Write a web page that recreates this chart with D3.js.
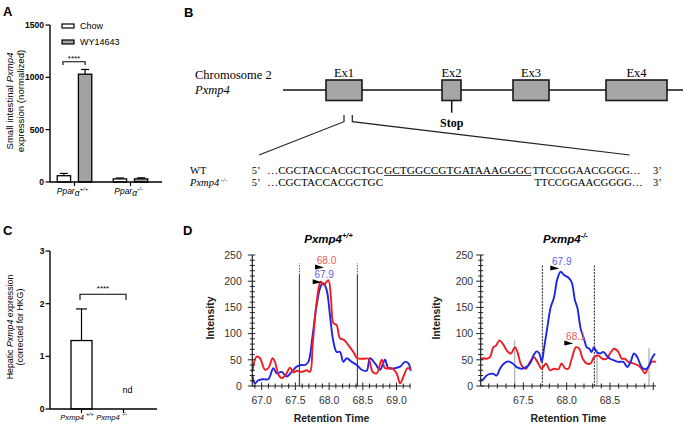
<!DOCTYPE html>
<html><head><meta charset="utf-8">
<script src="https://cdn.jsdelivr.net/npm/d3@7"></script>
<style>body{margin:0;background:#fff}svg{display:block}</style>
</head><body><svg id="c" width="685" height="428"></svg>
<script>
// ---------------- DATA ----------------
// Panel A
const groupsA = ["wt", "ko"];
const groupSupA = ["+/+", "-/-"];
const seriesA = ["Chow", "WY14643"];
const chowA = [60, 30];
const chowErrA = [22, 8];
const wyA = [1030, 30];
const wyErrA = [45, 10];
const ticksA = [0, 500, 1000, 1500];
// Panel C
const groupsC = ["wt", "ko"];
const groupSupC = ["+/+", "-/-"];
const valuesC = [1.3, null];
const errC = [0.6, null];
const ticksC = [0, 1, 2, 3];
// Panel B
const exonNames = ["Ex1", "Ex2", "Ex3", "Ex4"];
const exonStart = [43, 159, 230, 323];
const exonEnd = [79, 178, 266, 384];
const geneExtent = [0, 400];
const stopPos = 168.7;
const deletionSite = [61, 69.3];
const seqWT = ["…CGCTACCACGCTGC", "GCTGGCCGTGATAAAGGGC", "TTCCGGAACGGGG…"];
const seqKO = ["…CGCTACCACGCTGC", "", "TTCCGGAACGGGG…"];
// Panel D
const yTicksD = [0, 50, 100, 150, 200, 250];
const xTicksD1 = [67.0, 67.5, 68.0, 68.5, 69.0];
const xTicksD2 = [67.5, 68.0, 68.5];
const d1Red = [[66.861,27],[66.925,56],[66.975,53],[67.049,31],[67.098,34],[67.163,53],[67.197,46],[67.247,22],[67.296,15],[67.361,22],[67.420,35],[67.469,26],[67.519,29],[67.593,27],[67.667,30],[67.717,27],[67.756,78],[67.816,161],[67.875,199],[67.924,193],[67.988,202],[68.028,167],[68.063,120],[68.112,116],[68.162,91],[68.221,88],[68.285,78],[68.359,65],[68.419,53],[68.508,52],[68.582,52],[68.646,27],[68.706,24],[68.780,50],[68.829,34],[68.928,34],[69.003,24],[69.052,5],[69.112,21],[69.161,34],[69.210,32]];
const d1Blue = [[66.861,21],[66.901,5],[66.950,11],[67.024,13],[67.098,13],[67.173,34],[67.222,24],[67.296,27],[67.370,18],[67.445,27],[67.519,37],[67.593,40],[67.642,40],[67.692,46],[67.756,97],[67.816,155],[67.875,190],[67.914,196],[67.964,183],[68.013,135],[68.063,85],[68.112,65],[68.162,65],[68.211,46],[68.260,53],[68.335,46],[68.409,40],[68.483,31],[68.557,29],[68.607,53],[68.681,43],[68.755,31],[68.829,50],[68.879,34],[68.978,34],[69.052,37],[69.126,46],[69.176,43],[69.210,29]];
const d2Red = [[67.008,51],[67.038,53],[67.077,52],[67.115,55],[67.154,74],[67.185,77],[67.223,87],[67.262,81],[67.308,68],[67.354,62],[67.404,74],[67.431,65],[67.481,39],[67.531,33],[67.577,46],[67.623,55],[67.662,46],[67.712,33],[67.762,43],[67.808,30],[67.854,33],[67.904,32],[67.942,43],[67.981,34],[68.019,33],[68.058,52],[68.108,74],[68.146,71],[68.185,52],[68.231,43],[68.277,43],[68.315,55],[68.365,58],[68.412,52],[68.462,52],[68.500,62],[68.546,71],[68.596,65],[68.635,52],[68.673,52],[68.712,46],[68.769,43],[68.827,39],[68.865,33],[68.904,24],[68.942,36],[68.981,46],[69.031,46]];
const d2Blue = [[67.008,11],[67.038,13],[67.077,20],[67.115,23],[67.154,23],[67.192,20],[67.231,33],[67.277,43],[67.327,47],[67.377,43],[67.423,36],[67.481,33],[67.531,36],[67.577,43],[67.623,60],[67.654,66],[67.685,62],[67.712,46],[67.738,71],[67.777,112],[67.815,150],[67.854,169],[67.892,204],[67.931,218],[67.969,212],[68.019,207],[68.058,198],[68.096,163],[68.123,150],[68.162,109],[68.200,90],[68.231,74],[68.262,71],[68.288,65],[68.315,74],[68.346,65],[68.385,62],[68.423,65],[68.462,58],[68.500,52],[68.546,49],[68.596,46],[68.654,46],[68.700,36],[68.738,46],[68.777,62],[68.815,55],[68.865,36],[68.904,32],[68.942,36],[68.981,52],[69.019,62]];
const d1Markers = [67.56, 68.42];
const d2Markers = [67.72, 68.32];
const d2GrayMarkers = [67.40, 68.35, 68.95];
const d2GrayHeights = [87, 70, 72];
const d1Peaks = [{t: 67.924, v: 226, text: "68.0", c: "red"}, {t: 67.89, v: 198, text: "67.9", c: "blue"}];
const d2Peaks = [{t: 67.915, v: 224, text: "67.9", c: "blue"}, {t: 68.077, v: 81, text: "68.1", c: "red"}];

// ---------------- DRAW ----------------
const SANS = "'Liberation Sans', Arial, sans-serif";
const SERIF = "'Liberation Serif', 'Times New Roman', serif";
const svg = d3.select("#c");
svg.append("rect").attr("width", 685).attr("height", 428).attr("fill", "#fff");

function panelLetter(t, x, y) {
  svg.append("text").attr("x", x).attr("y", y).text(t)
    .attr("font-family", SANS).attr("font-weight", "bold").attr("font-size", 13);
}
panelLetter("A", 3, 16); panelLetter("B", 184, 17); panelLetter("C", 3, 235); panelLetter("D", 183, 235);

// ----- Panel A -----
(function () {
  const g = svg.append("g");
  const y = d3.scaleLinear().domain([0, 1500]).range([182, 25]);
  const x = d3.scalePoint().domain(groupsA).range([50, 155]).padding(0.4375);
  const xs = d3.scaleBand().domain(seriesA).range([-21.5, 21.5]).paddingInner(0.37).paddingOuter(0.2);
  const bw = xs.bandwidth();
  const vals = [chowA, wyA], errs = [chowErrA, wyErrA], fills = ["#ffffff", "#a3a3a3"];
  seriesA.forEach((s, si) => {
    groupsA.forEach((gname, gi) => {
      const cx = x(gname) + xs(s) + bw / 2;
      const top = y(vals[si][gi]), et = y(vals[si][gi] + errs[si][gi]);
      g.append("line").attr("x1", cx).attr("x2", cx).attr("y1", top).attr("y2", et).attr("stroke", "#000").attr("stroke-width", 1.2);
      g.append("line").attr("x1", cx - 4).attr("x2", cx + 4).attr("y1", et).attr("y2", et).attr("stroke", "#000").attr("stroke-width", 1.2);
      g.append("rect").attr("x", x(gname) + xs(s)).attr("y", top).attr("width", bw).attr("height", y(0) - top)
        .attr("fill", fills[si]).attr("stroke", "#000").attr("stroke-width", 1.3);
    });
  });
  // axes
  g.append("line").attr("x1", 50).attr("x2", 50).attr("y1", y(0)).attr("y2", y(1500)).attr("stroke", "#000").attr("stroke-width", 1.4);
  g.append("line").attr("x1", 50).attr("x2", 162).attr("y1", y(0)).attr("y2", y(0)).attr("stroke", "#000").attr("stroke-width", 1.4);
  ticksA.forEach(t => {
    g.append("line").attr("x1", 45.5).attr("x2", 50).attr("y1", y(t)).attr("y2", y(t)).attr("stroke", "#000").attr("stroke-width", 1.2);
    g.append("text").attr("x", 44).attr("y", y(t) + 3).attr("text-anchor", "end").text(t)
      .attr("font-family", SANS).attr("font-weight", "bold").attr("font-size", 8.5);
  });
  groupsA.forEach((gname, gi) => {
    g.append("line").attr("x1", x(gname)).attr("x2", x(gname)).attr("y1", y(0)).attr("y2", y(0) + 4).attr("stroke", "#000").attr("stroke-width", 1.2);
    const tx = g.append("text").attr("x", x(gname) - 2).attr("y", 194).attr("text-anchor", "middle")
      .attr("font-family", SANS).attr("font-size", 8.5).attr("font-style", "italic");
    tx.append("tspan").text("Ppar");
    tx.append("tspan").text("α").attr("dy", 1.5);
    tx.append("tspan").text(groupSupA[gi]).attr("font-size", 6).attr("dy", -5);
  });
  // legend
  seriesA.forEach((s, si) => {
    const ly = 26 + si * 16;
    g.append("rect").attr("x", 62).attr("y", ly - 2).attr("width", 12).attr("height", 4).attr("fill", fills[si]).attr("stroke", "#000").attr("stroke-width", 1.2);
    g.append("text").attr("x", 80).attr("y", ly + 3.3).text(s).attr("font-family", SANS).attr("font-size", 9);
  });
  // significance
  const x1 = x("wt") + xs("Chow") + bw / 2 - 1, x2 = x("wt") + xs("WY14643") + bw / 2;
  g.append("path").attr("d", `M${x1},65 V61.7 H${x2} V65`).attr("fill", "none").attr("stroke", "#000").attr("stroke-width", 1.1);
  g.append("text").attr("x", (x1 + x2) / 2).attr("y", 61).attr("text-anchor", "middle").text("****").attr("font-family", SANS).attr("font-size", 8);
  // y label
  const yl = g.append("text").attr("transform", "translate(10,101) rotate(-90)").attr("text-anchor", "middle").attr("dy", "0.35em")
    .attr("font-family", SANS).attr("font-size", 9.6);
  yl.append("tspan").text("Small intestinal ");
  yl.append("tspan").text("Pxmp4").attr("font-style", "italic");
  g.append("text").attr("transform", "translate(20.5,101) rotate(-90)").attr("text-anchor", "middle").attr("dy", "0.35em")
    .attr("font-family", SANS).attr("font-size", 9.6).text("expression (normalized)");
})();

// ----- Panel C -----
(function () {
  const g = svg.append("g");
  const y = d3.scaleLinear().domain([0, 3]).range([409, 251]);
  const x = d3.scalePoint().domain(groupsC).range([50, 155]).padding(0.75);
  const bw = 21;
  groupsC.forEach((gname, gi) => {
    if (valuesC[gi] == null) return;
    const cx = x(gname), top = y(valuesC[gi]), et = y(valuesC[gi] + errC[gi]);
    g.append("line").attr("x1", cx).attr("x2", cx).attr("y1", top).attr("y2", et).attr("stroke", "#000").attr("stroke-width", 1.2);
    g.append("line").attr("x1", cx - 5.5).attr("x2", cx + 5.5).attr("y1", et).attr("y2", et).attr("stroke", "#000").attr("stroke-width", 1.2);
    g.append("rect").attr("x", cx - bw / 2).attr("y", top).attr("width", bw).attr("height", y(0) - top)
      .attr("fill", "#fff").attr("stroke", "#000").attr("stroke-width", 1.3);
  });
  g.append("text").attr("x", x("ko") + 4).attr("y", 393).attr("text-anchor", "middle").text("nd").attr("font-family", SANS).attr("font-size", 9);
  g.append("line").attr("x1", 50).attr("x2", 50).attr("y1", y(0)).attr("y2", y(3)).attr("stroke", "#000").attr("stroke-width", 1.4);
  g.append("line").attr("x1", 50).attr("x2", 157).attr("y1", y(0)).attr("y2", y(0)).attr("stroke", "#000").attr("stroke-width", 1.4);
  ticksC.forEach(t => {
    g.append("line").attr("x1", 45.5).attr("x2", 50).attr("y1", y(t)).attr("y2", y(t)).attr("stroke", "#000").attr("stroke-width", 1.2);
    g.append("text").attr("x", 44.5).attr("y", y(t) + 3).attr("text-anchor", "end").text(t)
      .attr("font-family", SANS).attr("font-weight", "bold").attr("font-size", 8.5);
  });
  const lblDx = [-4.5, -12];
  groupsC.forEach((gname, gi) => {
    g.append("line").attr("x1", x(gname)).attr("x2", x(gname)).attr("y1", y(0)).attr("y2", y(0) + 4).attr("stroke", "#000").attr("stroke-width", 1.2);
    const tx = g.append("text").attr("x", x(gname) + lblDx[gi]).attr("y", 420).attr("text-anchor", "middle")
      .attr("font-family", SANS).attr("font-size", 7.6).attr("font-style", "italic");
    tx.append("tspan").text("Pxmp4 ");
    tx.append("tspan").text(groupSupC[gi]).attr("font-size", 5.3).attr("dy", -4);
  });
  const bx1 = x("wt") - 1.5, bx2 = x("ko") + 2.5;
  g.append("path").attr("d", `M${bx1},300 V294.3 H${bx2} V300`).attr("fill", "none").attr("stroke", "#000").attr("stroke-width", 1.1);
  g.append("text").attr("x", (bx1 + bx2) / 2).attr("y", 290.5).attr("text-anchor", "middle").text("****").attr("font-family", SANS).attr("font-size", 8);
  const yl = g.append("text").attr("transform", "translate(10,327) rotate(-90)").attr("text-anchor", "middle").attr("dy", "0.35em")
    .attr("font-family", SANS).attr("font-size", 8.8);
  yl.append("tspan").text("Hepatic ");
  yl.append("tspan").text("Pxmp4").attr("font-style", "italic");
  yl.append("tspan").text(" expression");
  g.append("text").attr("transform", "translate(19.5,327) rotate(-90)").attr("text-anchor", "middle").attr("dy", "0.35em")
    .attr("font-family", SANS).attr("font-size", 8.8).text("(corrected for HKG)");
})();

// ----- Panel B -----
(function () {
  const g = svg.append("g");
  const x = d3.scaleLinear().domain(geneExtent).range([283, 683]);
  g.append("line").attr("x1", x(geneExtent[0])).attr("x2", x(geneExtent[1])).attr("y1", 90).attr("y2", 90).attr("stroke", "#111").attr("stroke-width", 1.5);
  exonNames.forEach((n, i) => {
    g.append("rect").attr("x", x(exonStart[i])).attr("y", 80).attr("width", x(exonEnd[i]) - x(exonStart[i])).attr("height", 20.5)
      .attr("fill", "#a6a6a6").attr("stroke", "#1a1a1a").attr("stroke-width", 1.6);
    g.append("text").attr("x", (x(exonStart[i]) + x(exonEnd[i])) / 2).attr("y", 76.5).attr("text-anchor", "middle")
      .text(n).attr("font-family", SERIF).attr("font-size", 12.5);
  });
  g.append("text").attr("x", 195).attr("y", 78.5).text("Chromosome 2").attr("font-family", SERIF).attr("font-size", 12.5);
  g.append("text").attr("x", 195).attr("y", 94).text("Pxmp4").attr("font-family", SERIF).attr("font-size", 12.5).attr("font-style", "italic");
  g.append("line").attr("x1", x(stopPos)).attr("x2", x(stopPos)).attr("y1", 100.5).attr("y2", 112.7).attr("stroke", "#111").attr("stroke-width", 1.5);
  g.append("text").attr("x", x(stopPos)).attr("y", 127).attr("text-anchor", "middle").text("Stop")
    .attr("font-family", SERIF).attr("font-size", 12).attr("font-weight", "bold");
  // sequences
  const total = seqWT.join("").length;
  const cx = d3.scaleLinear().domain([0, total]).range([267, 641.7]);
  const rows = [{lab: "WT", seq: seqWT, y: 174}, {lab: "Pxmp4", seq: seqKO, y: 185.5}];
  const ds = deletionSite.map(x);
  g.append("path").attr("d", `M${ds[0]},115 V121.7 L${cx(0) - 8},155`).attr("fill", "none").attr("stroke", "#222").attr("stroke-width", 1.2);
  g.append("path").attr("d", `M${ds[1]},115 V121.7 L${cx(total) - 12},155`).attr("fill", "none").attr("stroke", "#222").attr("stroke-width", 1.2);
  rows.forEach((r, ri) => {
    const lt = g.append("text").attr("x", 190).attr("y", r.y).attr("font-family", SERIF).attr("font-size", 10.5);
    if (ri === 0) lt.text("WT");
    else {
      lt.attr("font-style", "italic").text("Pxmp4");
      lt.append("tspan").text(" -/-").attr("font-size", 6.5).attr("dy", -4).attr("font-style", "normal");
    }
    g.append("text").attr("x", 251.7).attr("y", r.y).text("5’").attr("font-family", SERIF).attr("font-size", 10.5);
    g.append("text").attr("x", 653).attr("y", r.y).text("3’").attr("font-family", SERIF).attr("font-size", 10.5);
    let pos = 0;
    seqWT.forEach((seg, si) => {
      const s = r.seq[si];
      const x0 = cx(pos), x1 = cx(pos + seg.length);
      if (s) {
        const off = (ri === 1 && si === 2) ? 2 : 0;
        g.append("text").attr("x", x0 + off).attr("y", r.y).text(s).attr("font-family", SERIF).attr("font-size", 10.8)
          .attr("textLength", x1 - x0 - 1).attr("lengthAdjust", "spacingAndGlyphs");
        if (ri === 0 && si === 1) {
          g.append("line").attr("x1", x0).attr("x2", x1 - 1).attr("y1", r.y + 1.5).attr("y2", r.y + 1.5).attr("stroke", "#111").attr("stroke-width", 0.8);
        }
      }
      pos += seg.length;
    });
  });
})();

// ----- Panel D -----
const RED = "#ee1c24", BLUE = "#2026e6", RED_T = "#e8585c", BLUE_T = "#5a5ee8";
function chrom(cfg) {
  const g = svg.append("g");
  const x = d3.scaleLinear().domain(cfg.xDomain).range(cfg.xRange);
  const y = d3.scaleLinear().domain([0, 250]).range([386, 255]);
  const x0 = cfg.xRange[0], y0 = y(0);
  (cfg.gray || []).forEach((t, i) => {
    g.append("line").attr("x1", x(t)).attr("x2", x(t)).attr("y1", y0).attr("y2", y(cfg.grayH[i])).attr("stroke", "#b5b5b5").attr("stroke-width", 1.4);
  });
  cfg.markers.forEach(t => {
    if (cfg.dashedAll) {
      g.append("line").attr("x1", x(t)).attr("x2", x(t)).attr("y1", y0).attr("y2", y(232)).attr("stroke", "#333").attr("stroke-width", 1.1).attr("stroke-dasharray", "2,1.2");
    } else {
      g.append("line").attr("x1", x(t)).attr("x2", x(t)).attr("y1", y0).attr("y2", y(212)).attr("stroke", "#444").attr("stroke-width", 1.2);
      g.append("line").attr("x1", x(t)).attr("x2", x(t)).attr("y1", y(212)).attr("y2", y(234)).attr("stroke", "#666").attr("stroke-width", 1.1).attr("stroke-dasharray", "1.5,1.2");
    }
  });
  const line = d3.line().x(d => x(d[0])).y(d => y(d[1])).curve(d3.curveCatmullRom.alpha(0.5));
  cfg.series.forEach(s => {
    g.append("path").datum(s.data).attr("d", line).attr("fill", "none").attr("stroke", s.color).attr("stroke-width", 1.9).attr("stroke-linejoin", "round");
  });
  g.append("line").attr("x1", x0).attr("x2", cfg.xRange[1]).attr("y1", y0).attr("y2", y0).attr("stroke", "#222").attr("stroke-width", 1.2);
  g.append("line").attr("x1", x0).attr("x2", x0).attr("y1", y0).attr("y2", y(250)).attr("stroke", "#222").attr("stroke-width", 1.2);
  d3.range(0, 251, 10).forEach(v => {
    const major = v % 50 === 0;
    g.append("line").attr("x1", x0 - (major ? 4.5 : 2.5)).attr("x2", x0 + (major ? 3 : 2.5)).attr("y1", y(v)).attr("y2", y(v)).attr("stroke", "#222").attr("stroke-width", 1);
  });
  yTicksD.forEach(v => {
    g.append("text").attr("x", x0 - cfg.ylabGap).attr("y", y(v) + 3.7).attr("text-anchor", "end").text(v)
      .attr("font-family", SANS).attr("font-size", 10.5).attr("fill", "#333");
  });
  d3.range(660, 700).map(v => v / 10).filter(t => t >= cfg.xDomain[0] && t <= cfg.xDomain[1]).forEach(t => {
    const major = Math.abs(t * 2 - Math.round(t * 2)) < 1e-6;
    g.append("line").attr("x1", x(t)).attr("x2", x(t)).attr("y1", y0 - (major ? 3.5 : 2.5)).attr("y2", y0 + (major ? 4 : 2.5)).attr("stroke", "#222").attr("stroke-width", 1);
  });
  cfg.xTicks.forEach(t => {
    g.append("text").attr("x", x(t)).attr("y", y0 + 18).attr("text-anchor", "middle").text(t.toFixed(1))
      .attr("font-family", SANS).attr("font-size", 10.5).attr("fill", "#333");
  });
  const mid = (cfg.xRange[0] + cfg.xRange[1]) / 2;
  g.append("text").attr("x", mid).attr("y", 422).attr("text-anchor", "middle").text("Retention Time")
    .attr("font-family", SANS).attr("font-size", 10.5).attr("font-weight", "bold").attr("fill", "#222");
  g.append("text").attr("transform", `translate(${x0 - cfg.ylabX},318) rotate(-90)`).attr("text-anchor", "middle").attr("dy", "0.35em")
    .text("Intensity").attr("font-family", SANS).attr("font-size", 10.5).attr("font-weight", "bold").attr("fill", "#222");
  const tt = g.append("text").attr("x", mid - 3).attr("y", 243).attr("text-anchor", "middle")
    .attr("font-family", SANS).attr("font-size", 11.5).attr("font-weight", "bold").attr("font-style", "italic");
  tt.append("tspan").text("Pxmp4");
  tt.append("tspan").text(cfg.sup).attr("font-size", 7.5).attr("dy", -5);
  cfg.peaks.forEach(p => {
    const px = x(p.t), py = y(p.v);
    g.append("path").attr("d", `M${px - 9},${py - 3} L${px},${py} L${px - 9},${py + 2} Z`).attr("fill", "#000");
    g.append("text").attr("x", px + 2.5).attr("y", py - 4).attr("text-anchor", "middle").text(p.text)
      .attr("font-family", SANS).attr("font-size", 10).attr("fill", p.c === "red" ? RED_T : BLUE_T);
  });
}
chrom({xDomain: [66.861, 69.21], xRange: [252.3, 410.7], xTicks: xTicksD1, markers: d1Markers, dashedAll: false,
  series: [{data: d1Blue, color: BLUE}, {data: d1Red, color: RED}], peaks: d1Peaks, sup: "+/+", ylabGap: 10.5, ylabX: 42});
chrom({xDomain: [67.008, 69.031], xRange: [480.7, 656], xTicks: xTicksD2, markers: d2Markers, dashedAll: true,
  gray: d2GrayMarkers, grayH: d2GrayHeights,
  series: [{data: d2Red, color: RED}, {data: d2Blue, color: BLUE}], peaks: d2Peaks, sup: "-/-", ylabGap: 7.5, ylabX: 44});
</script></body></html>
